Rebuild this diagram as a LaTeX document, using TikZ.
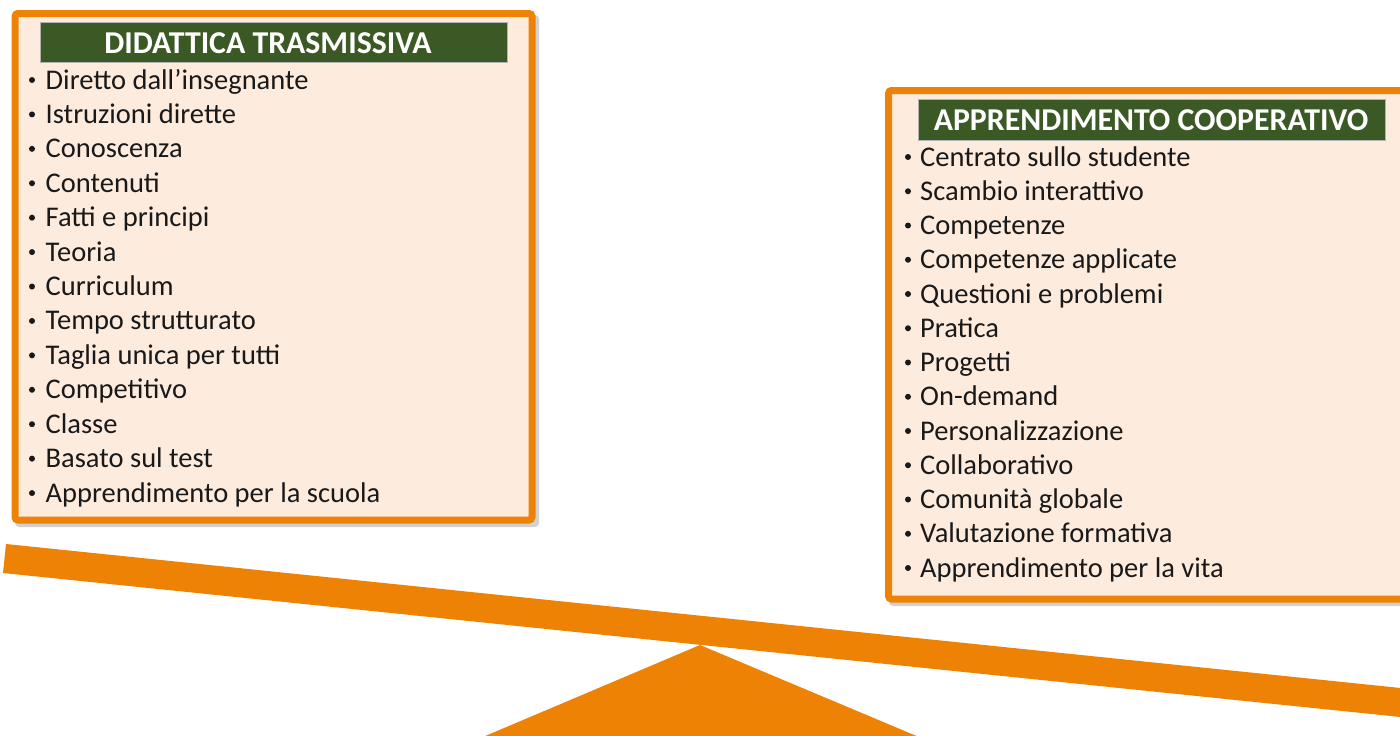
\documentclass[tikz,border=0pt]{standalone}
\usepackage{fontspec}
\setmainfont{Carlito}
\definecolor{boxorange}{RGB}{237,130,4}
\definecolor{boxfill}{RGB}{253,235,222}
\definecolor{hdrgreen}{RGB}{59,89,37}
\tikzset{
  panel/.style={draw=boxorange, line width=7pt, fill=boxfill, rounded corners=3pt},
  panelshadow/.style={fill=black, opacity=0.18, rounded corners=4pt},
  header/.style={fill=hdrgreen, draw=black!30, line width=1pt},
  hdrtext/.style={text=white, font=\fontsize{31.8}{36}\selectfont\bfseries, inner sep=0pt, anchor=base},
  itemtext/.style={text=black!90, font=\fontsize{28.5}{34}\selectfont, inner sep=0pt, anchor=base west},
  bulletdot/.style={circle, fill=black!90, draw=none, inner sep=0pt, minimum size=6pt},
  lever/.style={fill=boxorange, draw=none}
}
\begin{document}
\begin{tikzpicture}[x=1pt,y=-1pt]
\useasboundingbox (0,0) rectangle (1400,736);
\fill[white] (0,0) rectangle (1400,736);
% seesaw
\coordinate (btl) at (6,544);
\coordinate (bbl) at (3,573);
\coordinate (bbr) at (1420,719);
\coordinate (btr) at (1420,690);
\fill[lever] (btl) -- (btr) -- (bbr) -- (bbl) -- cycle;
\coordinate (apex) at (700,645);
\coordinate (tl) at (464,745);
\coordinate (tr) at (938,745);
\fill[lever] (apex) -- (tr) -- (tl) -- cycle;
% left panel
\fill[panelshadow] (15,15) rectangle (539,527);
\draw[panel] (15,13.5) rectangle (532,520);
\node[header, minimum width=467pt, minimum height=40pt, inner sep=0pt, anchor=north west] (lhdr) at (40,22) {};
\node[hdrtext] (lhdrt) at (268,53) {DIDATTICA TRASMISSIVA};
\foreach \t [count=\i] in {Diretto dall’insegnante, Istruzioni dirette, Conoscenza, Contenuti, Fatti e principi, Teoria, Curriculum, Tempo strutturato, Taglia unica per tutti, Competitivo, Classe, Basato sul test, Apprendimento per la scuola}{
  \node[bulletdot] (lb\i) at (32,{80+34.42*(\i-1)}) {};
  \node[itemtext] (l\i) at (45.5,{89+34.42*(\i-1)}) {\t};
}
% right panel
\fill[panelshadow] (889,92) rectangle (1420,606);
\draw[panel] (888.5,90.5) rectangle (1420,599);
\node[header, minimum width=467pt, minimum height=41pt, inner sep=0pt, anchor=north west] (rhdr) at (918,98.5) {};
\node[hdrtext] (rhdrt) at (1151,130) {APPRENDIMENTO COOPERATIVO};
\foreach \t [count=\i] in {Centrato sullo studente, Scambio interattivo, Competenze, Competenze applicate, Questioni e problemi, Pratica, Progetti, On-demand, Personalizzazione, Collaborativo, Comunità globale, Valutazione formativa, Apprendimento per la vita}{
  \node[bulletdot] (rb\i) at (908,{157+34.25*(\i-1)}) {};
  \node[itemtext] (r\i) at (920,{166+34.25*(\i-1)}) {\t};
}
\end{tikzpicture}
\end{document}
